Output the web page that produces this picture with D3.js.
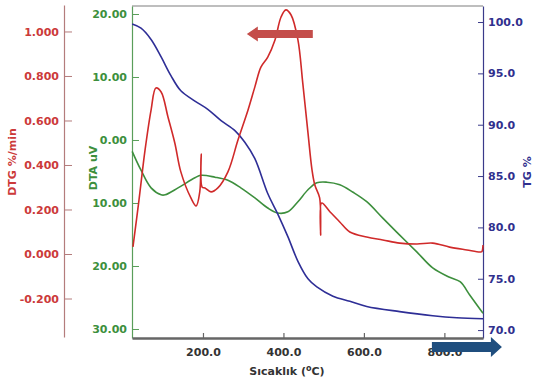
<!DOCTYPE html>
<html>
<head>
<meta charset="utf-8">
<script src="https://cdn.jsdelivr.net/npm/d3@7"></script>
<style>
  body { margin: 0; background: #fff; }
  text { font-family: "DejaVu Sans", sans-serif; font-weight: bold; font-size: 11px; }
</style>
</head>
<body>
<div id="chart"></div>
<script>
// temperature ticks (°C)
const tempTicks = [200, 400, 600, 800];
const tempTickLabels = ['200.0', '400.0', '600.0', '800.0'];

const dtgTicks = [1.0, 0.8, 0.6, 0.4, 0.2, 0.0, -0.2];
const dtgTickLabels = ['1.000', '0.800', '0.600', '0.400', '0.200', '0.000', '-0.200'];

const dtaTicks = [20, 10, 0, -10, -20, -30];
const dtaTickLabels = ['20.00', '10.00', '0.00', '10.00', '20.00', '30.00'];

const tgTicks = [100, 95, 90, 85, 80, 75, 70];
const tgTickLabels = ['100.0', '95.0', '90.0', '85.0', '80.0', '75.0', '70.0'];

// TG % (blue)
const tgTemp = [24, 46, 71, 96, 120, 145, 180, 212, 245, 280, 304, 329, 361, 386, 411, 436, 461, 483, 523, 565, 607, 689, 771, 831, 896];
const tgValue = [99.8, 99.4, 98.3, 96.6, 94.8, 93.3, 92.3, 91.5, 90.4, 89.4, 88.3, 86.7, 83.3, 81.3, 79.1, 76.7, 75.0, 74.2, 73.3, 72.8, 72.3, 71.8, 71.4, 71.2, 71.1];

// DTA uV (green)
const dtaTemp = [24, 46, 71, 96, 106, 138, 180, 195, 230, 262, 294, 329, 361, 386, 411, 436, 461, 483, 508, 540, 573, 607, 647, 689, 732, 771, 813, 839, 863, 881, 896];
const dtaValue = [-1.8, -4.8, -7.6, -8.7, -8.7, -7.6, -6.0, -5.6, -5.9, -6.4, -7.6, -9.2, -10.8, -11.6, -11.4, -9.8, -7.9, -6.8, -6.7, -7.1, -8.3, -9.8, -12.4, -15.1, -17.8, -20.3, -21.8, -22.5, -24.6, -26.2, -27.5];

// DTG %/min (red)
const dtgTemp = [26, 41, 56, 71, 83, 96, 113, 130, 145, 170, 183, 192, 195.5, 198, 205, 220, 237, 262, 287, 312, 329, 344, 361, 379, 394, 406, 419, 436, 448, 461, 471, 478, 490, 492.5, 495, 516, 540, 565, 607, 647, 689, 732, 771, 813, 856, 888, 893, 896];
const dtgValue = [0.032, 0.243, 0.467, 0.647, 0.746, 0.728, 0.616, 0.499, 0.369, 0.252, 0.216, 0.279, 0.449, 0.300, 0.297, 0.279, 0.297, 0.369, 0.512, 0.647, 0.751, 0.840, 0.885, 0.962, 1.065, 1.097, 1.074, 0.962, 0.769, 0.544, 0.378, 0.310, 0.252, 0.085, 0.229, 0.189, 0.144, 0.099, 0.076, 0.063, 0.049, 0.045, 0.049, 0.031, 0.018, 0.009, 0.010, 0.040];

// annotation arrows, in data units: [fromTemp, toTemp, level]
const dtgArrow = [473, 309, 0.989];
const tgArrow = [769, 943, 68.35];

const width = 534, height = 385;
const plot = {left: 132, right: 483, top: 6, bottom: 338};

const svg = d3.select('#chart')
  .append('svg')
    .attr('width', width)
    .attr('height', height);

svg.append('rect').attr('width', width).attr('height', height).attr('fill', '#fff');

const xScale = d3.scaleLinear().domain([23.6, 896]).range([plot.left, plot.right]);
const dtgScale = d3.scaleLinear().domain([-0.373, 1.119]).range([337, 5]);
const dtaScale = d3.scaleLinear().domain([-31.43, 21.27]).range([plot.bottom, plot.top]);
const tgScale = d3.scaleLinear().domain([69.23, 101.56]).range([plot.bottom, plot.top]);

const red = '#d02a2a', green = '#3d8f3d', blue = '#2e2e96';

// top frame line
svg.append('line')
  .attr('x1', plot.left).attr('x2', plot.right)
  .attr('y1', plot.top).attr('y2', plot.top)
  .attr('stroke', '#a8a8a8').attr('stroke-width', 1.5);

function styleAxis(g, lineColor, textColor, lineWidth) {
  g.select('.domain').attr('stroke', lineColor).attr('stroke-width', lineWidth || 1.2);
  g.selectAll('.tick line').attr('stroke', lineColor);
  g.selectAll('.tick text').attr('fill', textColor)
    .style('font-family', '"DejaVu Sans", sans-serif')
    .style('font-weight', 'bold').style('font-size', '11px');
  g.attr('font-family', null).attr('font-size', null);
}

// DTG axis (far left)
const dtgAxis = svg.append('g')
  .attr('transform', 'translate(64,0)')
  .call(d3.axisLeft(dtgScale)
    .tickValues(dtgTicks)
    .tickFormat((d, i) => dtgTickLabels[i])
    .tickSizeInner(-8).tickSizeOuter(0).tickPadding(5));
styleAxis(dtgAxis, '#b47c7c', '#cc3a3a');

// DTA axis (left frame)
const dtaAxis = svg.append('g')
  .attr('transform', `translate(${plot.left},0)`)
  .call(d3.axisLeft(dtaScale)
    .tickValues(dtaTicks)
    .tickFormat((d, i) => dtaTickLabels[i])
    .tickSizeInner(-7).tickSizeOuter(0).tickPadding(5));
styleAxis(dtaAxis, '#5a9e5a', '#3d8f3d');

// TG axis (right frame)
const tgAxis = svg.append('g')
  .attr('transform', `translate(${plot.right},0)`)
  .call(d3.axisRight(tgScale)
    .tickValues(tgTicks)
    .tickFormat((d, i) => tgTickLabels[i])
    .tickSizeInner(-5).tickSizeOuter(0).tickPadding(5));
styleAxis(tgAxis, '#3a3a8a', '#30308e');

// temperature axis (bottom)
const xAxis = svg.append('g')
  .attr('transform', `translate(0,${plot.bottom})`)
  .call(d3.axisBottom(xScale)
    .tickValues(tempTicks)
    .tickFormat((d, i) => tempTickLabels[i])
    .tickSizeInner(-5).tickSizeOuter(0).tickPadding(10));
styleAxis(xAxis, '#666', '#333', 2.5);
xAxis.selectAll('.tick line').attr('stroke-width', 1.2);

// axis titles
svg.append('text')
  .attr('transform', 'translate(16,162) rotate(-90)')
  .attr('text-anchor', 'middle')
  .attr('fill', '#cc3a3a')
  .text('DTG %/min');

svg.append('text')
  .attr('transform', 'translate(97,168) rotate(-90)')
  .attr('text-anchor', 'middle')
  .attr('fill', '#3d8f3d')
  .text('DTA uV');

svg.append('text')
  .attr('transform', 'translate(531,172) rotate(-90)')
  .attr('text-anchor', 'middle')
  .attr('fill', '#30308e')
  .text('TG %');

const xTitle = svg.append('text')
  .attr('x', 287).attr('y', 375)
  .attr('text-anchor', 'middle')
  .attr('fill', '#333');
xTitle.append('tspan').text('Sıcaklık (');
xTitle.append('tspan').attr('dy', -4).style('font-size', '8px').text('o');
xTitle.append('tspan').attr('dy', 4).text('C)');

// curves
function addLine(temps, values, yScale, color) {
  const data = temps.map((t, i) => [t, values[i]]);
  const line = d3.line()
    .x((d) => xScale(d[0]))
    .y((d) => yScale(d[1]))
    .curve(d3.curveCatmullRom.alpha(0.5));

  svg.append('path')
    .datum(data)
    .attr('fill', 'none')
    .attr('stroke', color)
    .attr('stroke-width', 1.6)
    .attr('stroke-linejoin', 'round')
    .attr('d', line);
}

addLine(dtaTemp, dtaValue, dtaScale, green);
addLine(tgTemp, tgValue, tgScale, blue);
addLine(dtgTemp, dtgValue, dtgScale, red);

// direction arrows
function addArrow(spec, yScale, color, shaftHalf, headHalf, headLen) {
  const x0 = xScale(spec[0]), x1 = xScale(spec[1]), y = yScale(spec[2]);
  const dir = x1 > x0 ? 1 : -1;
  const xb = x1 - dir * headLen;
  const pts = [
    [x0, y - shaftHalf], [xb, y - shaftHalf], [xb, y - headHalf], [x1, y],
    [xb, y + headHalf], [xb, y + shaftHalf], [x0, y + shaftHalf]
  ];
  svg.append('path')
    .attr('d', d3.line()(pts) + 'Z')
    .attr('fill', color);
}

addArrow(dtgArrow, dtgScale, '#c44d4a', 4, 7.5, 11);
addArrow(tgArrow, tgScale, '#1f4e7e', 5, 10, 11);
</script>
</body>
</html>
